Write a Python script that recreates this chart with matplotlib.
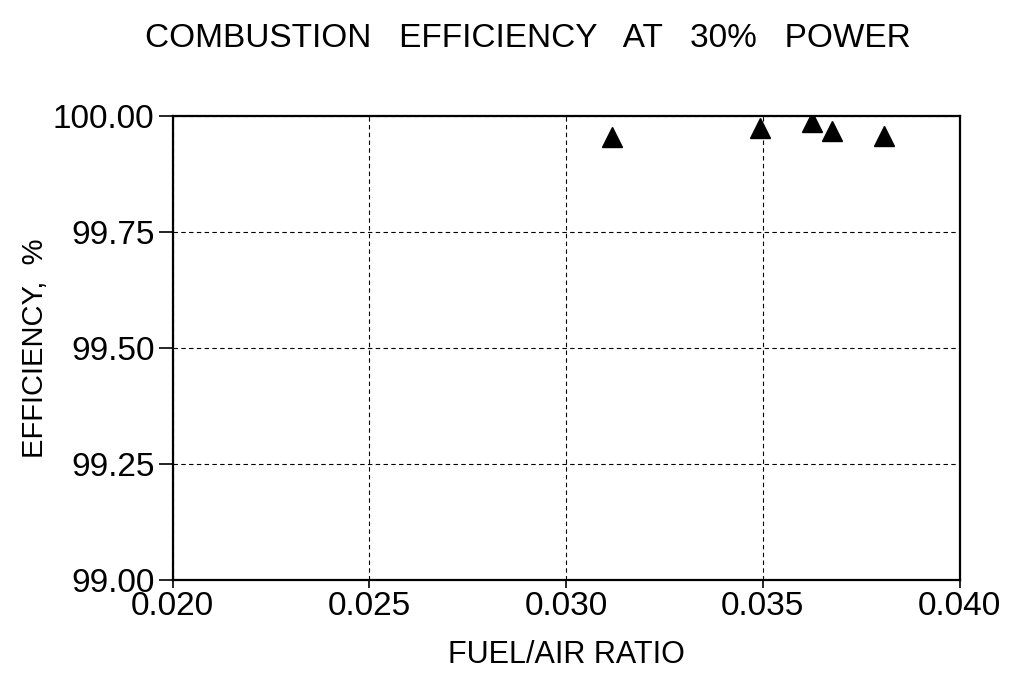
import matplotlib
matplotlib.use("Agg")
import matplotlib.pyplot as plt

# fuel/air ratio vs combustion efficiency
far = [0.03118, 0.03492, 0.03624, 0.03675, 0.03809]
eff = [99.955, 99.973, 99.987, 99.968, 99.957]

xticks = [0.020, 0.025, 0.030, 0.035, 0.040]
yticks = [99.00, 99.25, 99.50, 99.75, 100.00]

plt.rcParams['font.family'] = ['Liberation Sans', 'DejaVu Sans']
fig = plt.figure(figsize=(10.09, 6.82), dpi=100)
ax = fig.add_axes([0.171, 0.150, 0.780, 0.680])

ax.plot(far, eff, linestyle="none", marker="^", markersize=15, color="black")

ax.set_xlim(0.020, 0.040)
ax.set_ylim(99.0, 100.0)
ax.set_xticks(xticks)
ax.set_xticklabels(["%.3f" % v for v in xticks], fontsize=24)
ax.set_yticks(yticks)
ax.set_yticklabels(["%.2f" % v for v in yticks], fontsize=24)
ax.tick_params(direction="out", width=1.2, color="black")
ax.tick_params(axis="y", length=10, pad=3)
ax.tick_params(axis="x", length=6, pad=2)
ax.grid(True, linestyle=(0, (4, 3)), color="black", linewidth=0.8)
for s in ax.spines.values():
    s.set_linewidth(1.6)

ax.set_xlabel("FUEL/AIR RATIO", fontsize=22, labelpad=13)
ax.set_ylabel("EFFICIENCY,  %", fontsize=21, labelpad=3)
fig.text(0.523, 0.943, "COMBUSTION   EFFICIENCY   AT   30%   POWER", fontsize=24,
         ha="center", va="center")

fig.savefig("out.png", dpi=100)
